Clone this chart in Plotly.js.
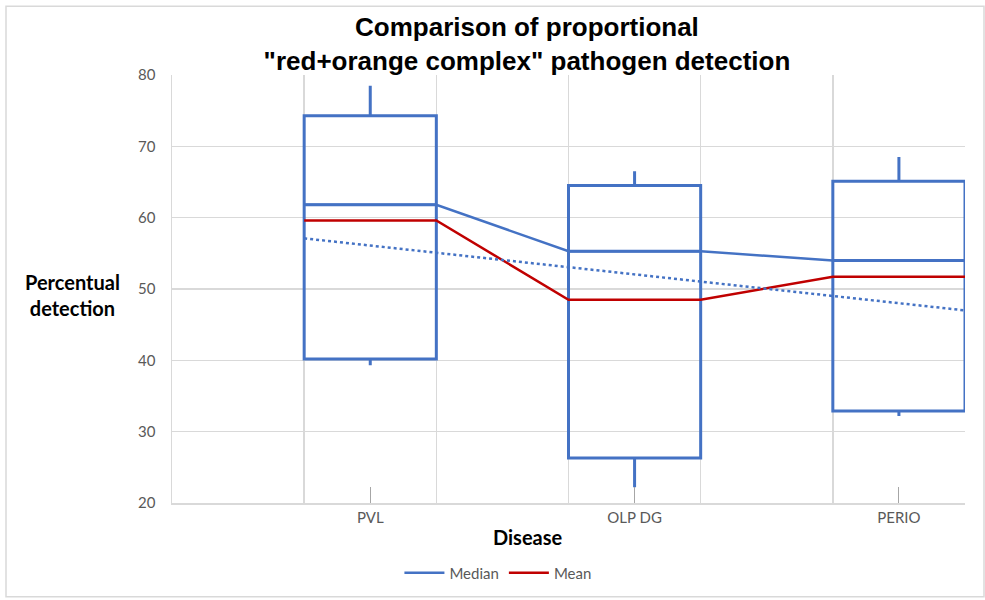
<!DOCTYPE html>
<html>
<head>
<meta charset="utf-8">
<script src="https://cdn.plot.ly/plotly-3.0.1.min.js"></script>
<style>
  html, body { margin: 0; padding: 0; background: #fff; }
  #chart { width: 985px; height: 600px; }
</style>
</head>
<body>
<div id="chart"></div>
<script>
// ---- data ----
const categories = ['PVL', 'OLP DG', 'PERIO'];
const q1Values = [40.2, 26.3, 32.9];
const q3Values = [74.3, 64.5, 65.1];
const medianValues = [61.8, 55.3, 54.0];
const meanValues = [59.6, 48.5, 51.7];
const lowerValues = [39.3, 22.2, 32.2];
const upperValues = [78.5, 66.5, 68.5];
const trendValues = [57.1, 47.0]; // linear trend, start and end
const yTicks = [20, 30, 40, 50, 60, 70, 80];

// ---- positions: each category occupies slots 2i+1 .. 2i+2 ----
const centers = categories.map((c, i) => 2 * i + 1.5);
const lineX = [];
const medY = [];
const meanY = [];
categories.forEach((c, i) => {
  lineX.push(2 * i + 1, 2 * i + 2);
  medY.push(medianValues[i], medianValues[i]);
  meanY.push(meanValues[i], meanValues[i]);
});

const BLUE = '#4472C4';
const RED = '#C00000';
const GRID = '#d9d9d9';
const FONT = 'Lato, "Open Sans", sans-serif';

const traces = [
  {
    type: 'box',
    x: centers,
    q1: q1Values,
    median: medianValues,
    q3: q3Values,
    lowerfence: lowerValues,
    upperfence: upperValues,
    width: 1,
    whiskerwidth: 0,
    boxpoints: false,
    line: { color: BLUE, width: 3 },
    fillcolor: 'rgba(0,0,0,0)',
    showlegend: false,
    hoverinfo: 'skip'
  },
  {
    type: 'scatter',
    mode: 'lines',
    name: 'Median',
    x: lineX,
    y: medY,
    line: { color: BLUE, width: 2.5 },
    hoverinfo: 'skip'
  },
  {
    type: 'scatter',
    mode: 'lines',
    name: 'Mean',
    x: lineX,
    y: meanY,
    line: { color: RED, width: 2.5 },
    hoverinfo: 'skip'
  },
  {
    type: 'scatter',
    mode: 'lines',
    name: 'Linear (Median)',
    x: [lineX[0], lineX[lineX.length - 1]],
    y: trendValues,
    line: { color: BLUE, width: 2.5, dash: 'dot' },
    showlegend: false,
    hoverinfo: 'skip'
  }
];

const layout = {
  width: 985,
  height: 600,
  margin: { l: 172, r: 20, t: 75, b: 96 },
  paper_bgcolor: '#ffffff',
  plot_bgcolor: '#ffffff',
  font: { family: FONT, color: '#595959', size: 14 },
  title: {
    text: '<b>Comparison of proportional<br>"red+orange complex" pathogen detection</b>',
    font: { family: '"Liberation Sans", Arial, sans-serif', size: 26, color: '#000000' },
    x: 0.535,
    xanchor: 'center',
    y: 0.94,
    yanchor: 'top'
  },
  xaxis: {
    range: [0, 6],
    tickmode: 'array',
    tickvals: centers,
    ticktext: categories,
    showgrid: false,
    ticks: 'inside',
    ticklen: 16,
    tickwidth: 1,
    tickcolor: '#a6a6a6',
    showline: true,
    linecolor: GRID,
    linewidth: 1.5,
    zeroline: false,
    tickfont: { family: FONT, size: 15, color: '#595959' },
    minor: { tickmode: 'linear', tick0: 0, dtick: 1, showgrid: true, gridcolor: GRID, gridwidth: 1.5, ticks: '' },
    fixedrange: true
  },
  yaxis: {
    range: [20, 80],
    tickmode: 'array',
    tickvals: yTicks,
    showgrid: true,
    gridcolor: GRID,
    gridwidth: 1.5,
    showline: true,
    linecolor: GRID,
    linewidth: 1.5,
    zeroline: false,
    ticks: '',
    ticklabelstandoff: 12,
    tickfont: { family: FONT, size: 15, color: '#595959' },
    fixedrange: true
  },
  legend: {
    orientation: 'h',
    x: 0.411,
    xanchor: 'center',
    y: -0.161,
    yanchor: 'middle',
    font: { family: FONT, size: 15, color: '#595959' },
    itemwidth: 40,
    traceorder: 'normal'
  },
  annotations: [
    {
      text: '<b>Percentual<br>detection</b>',
      xref: 'paper', yref: 'paper',
      x: -0.126, y: 0.487,
      xanchor: 'center', yanchor: 'middle',
      showarrow: false,
      align: 'center',
      font: { family: FONT, size: 20, color: '#000000' }
    },
    {
      text: '<b>Disease</b>',
      xref: 'paper', yref: 'paper',
      x: 0.449, y: -0.079,
      xanchor: 'center', yanchor: 'middle',
      showarrow: false,
      font: { family: FONT, size: 20, color: '#000000' }
    }
  ],
  shapes: [
    {
      type: 'rect',
      xref: 'paper', yref: 'paper',
      x0: (6 - 172) / 793, x1: (984 - 172) / 793,
      y0: (504 - 598) / 429, y1: (504 - 6) / 429,
      line: { color: GRID, width: 1.5 },
      fillcolor: 'rgba(0,0,0,0)',
      layer: 'below'
    }
  ],
  hovermode: false
};

Plotly.newPlot('chart', traces, layout, { displayModeBar: false, staticPlot: true });
</script>
</body>
</html>
